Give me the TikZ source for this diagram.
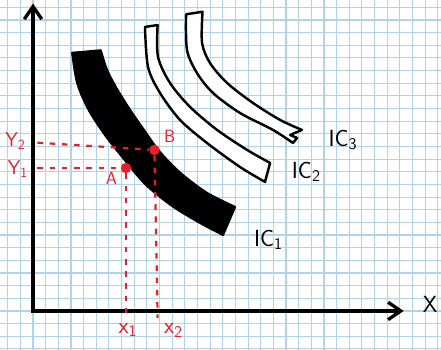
\documentclass[tikz,border=0pt]{standalone}
\usepackage{tikz}
\usetikzlibrary{calc,arrows.meta}
\definecolor{gridblue}{RGB}{176,210,234}
\definecolor{penred}{RGB}{232,30,40}

\begin{document}
\begin{tikzpicture}[x=0.4cm,y=0.4cm,
		axis/.style={line width=3.2pt, line join=miter,
			{Straight Barb[length=4mm,width=5.5mm,line width=3pt]}-{Straight Barb[length=4mm,width=5.5mm,line width=3pt]}},
		band/.style={line width=2.2pt, line join=round, fill=white},
		guide/.style={penred, line width=2pt, dash pattern=on 5pt off 6pt},
		dot/.style={circle, fill=penred, inner sep=0pt, minimum size=3.3mm},
		hand/.style={font=\sffamily\fontsize{21}{24}\selectfont},
		redhand/.style={font=\sffamily\fontsize{18}{20}\selectfont, text=penred}]
	\useasboundingbox (-2.61,-3.08) rectangle (32.25,24.58);
	\draw[gridblue, line width=1pt, step=1] (-2.61,-3.08) grid (32.25,24.58);

	\coordinate (origin) at (0, 0);
	\coordinate (ytop) at (0, 24.3);
	\coordinate (xend) at (29.3, 0);
	\draw[axis] (ytop) -- (origin) -- (xend);
	\node[hand] at (31.4, 0.5) (xlabel) {X};

	% IC 1, filled
	\filldraw[line width=2pt, line join=round]
		plot[smooth] coordinates {(3.1,20.4) (3.5,18.0) (4.4,15.9) (5.7,13.9) (7.2,12.0) (8.9,10.0) (11.0,8.3) (13.2,6.96) (15.02,6.01)}
		-- plot[smooth] coordinates {(15.97,8.22) (13.75,9.33) (11.6,10.95) (10.0,12.6) (8.7,14.4) (7.6,16.0) (6.6,17.6) (5.85,19.05) (5.35,20.6)}
		-- cycle;

	% IC 2
	\draw[band]
		plot[smooth] coordinates {(8.85,22.45) (9.09,19.29) (10.04,17.23) (11.62,15.10) (13.75,13.28) (16.36,11.38) (18.34,10.20)}
		-- plot[smooth] coordinates {(18.74,11.70) (16.92,12.73) (14.55,14.31) (12.41,16.13) (10.83,18.02) (9.88,20.08) (9.85,22.6)}
		-- cycle;

	% IC 3
	\draw[band]
		plot[smooth] coordinates {(12.1,23.45) (12.17,20.63) (12.96,18.81) (14.23,17.23) (16.36,15.65) (18.97,14.31) (20.55,13.28)}
		-- (20.87,13.68) -- (20.32,13.91)
		-- plot[smooth] coordinates {(21.26,14.31) (19.53,15.10) (17.39,16.44) (15.34,18.02) (13.99,19.60) (13.36,21.19) (13.4,23.65)}
		-- cycle;

	\node[hand] at (18.6, 5.6) (ic1) {IC\textsubscript{1}};
	\node[hand] at (21.6, 11.0) (ic2) {IC\textsubscript{2}};
	\node[hand] at (24.5, 13.5) (ic3) {IC\textsubscript{3}};

	% the two bundles
	\node[dot] at (7.35, 11.30) (A) {};
	\node[dot] at (9.6, 12.73) (B) {};
	\node[redhand, font=\sffamily\fontsize{16}{18}\selectfont] at (6.2, 10.5) (Alabel) {A};
	\node[redhand, font=\sffamily\fontsize{16}{18}\selectfont] at (10.8, 13.8) (Blabel) {B};

	\coordinate (y2mark) at (0.35, 13.3);
	\coordinate (y1mark) at (0.35, 11.3);
	\coordinate (x1mark) at (7.35, -0.55);
	\coordinate (x2mark) at (9.85, -0.55);
	\draw[guide] (y2mark) -- (B);
	\draw[guide] (y1mark) -- (A);
	\draw[guide] (A) -- (x1mark);
	\draw[guide] (B) -- (x2mark);

	\node[redhand] at (-1.4, 13.4) (y2) {Y\textsubscript{2}};
	\node[redhand] at (-1.2, 11.2) (y1) {Y\textsubscript{1}};
	\node[redhand, font=\sffamily\fontsize{21}{24}\selectfont] at (7.5, -1.5) (x1) {x\textsubscript{1}};
	\node[redhand, font=\sffamily\fontsize{21}{24}\selectfont] at (11.1, -1.55) (x2) {x\textsubscript{2}};
\end{tikzpicture}
\end{document}
